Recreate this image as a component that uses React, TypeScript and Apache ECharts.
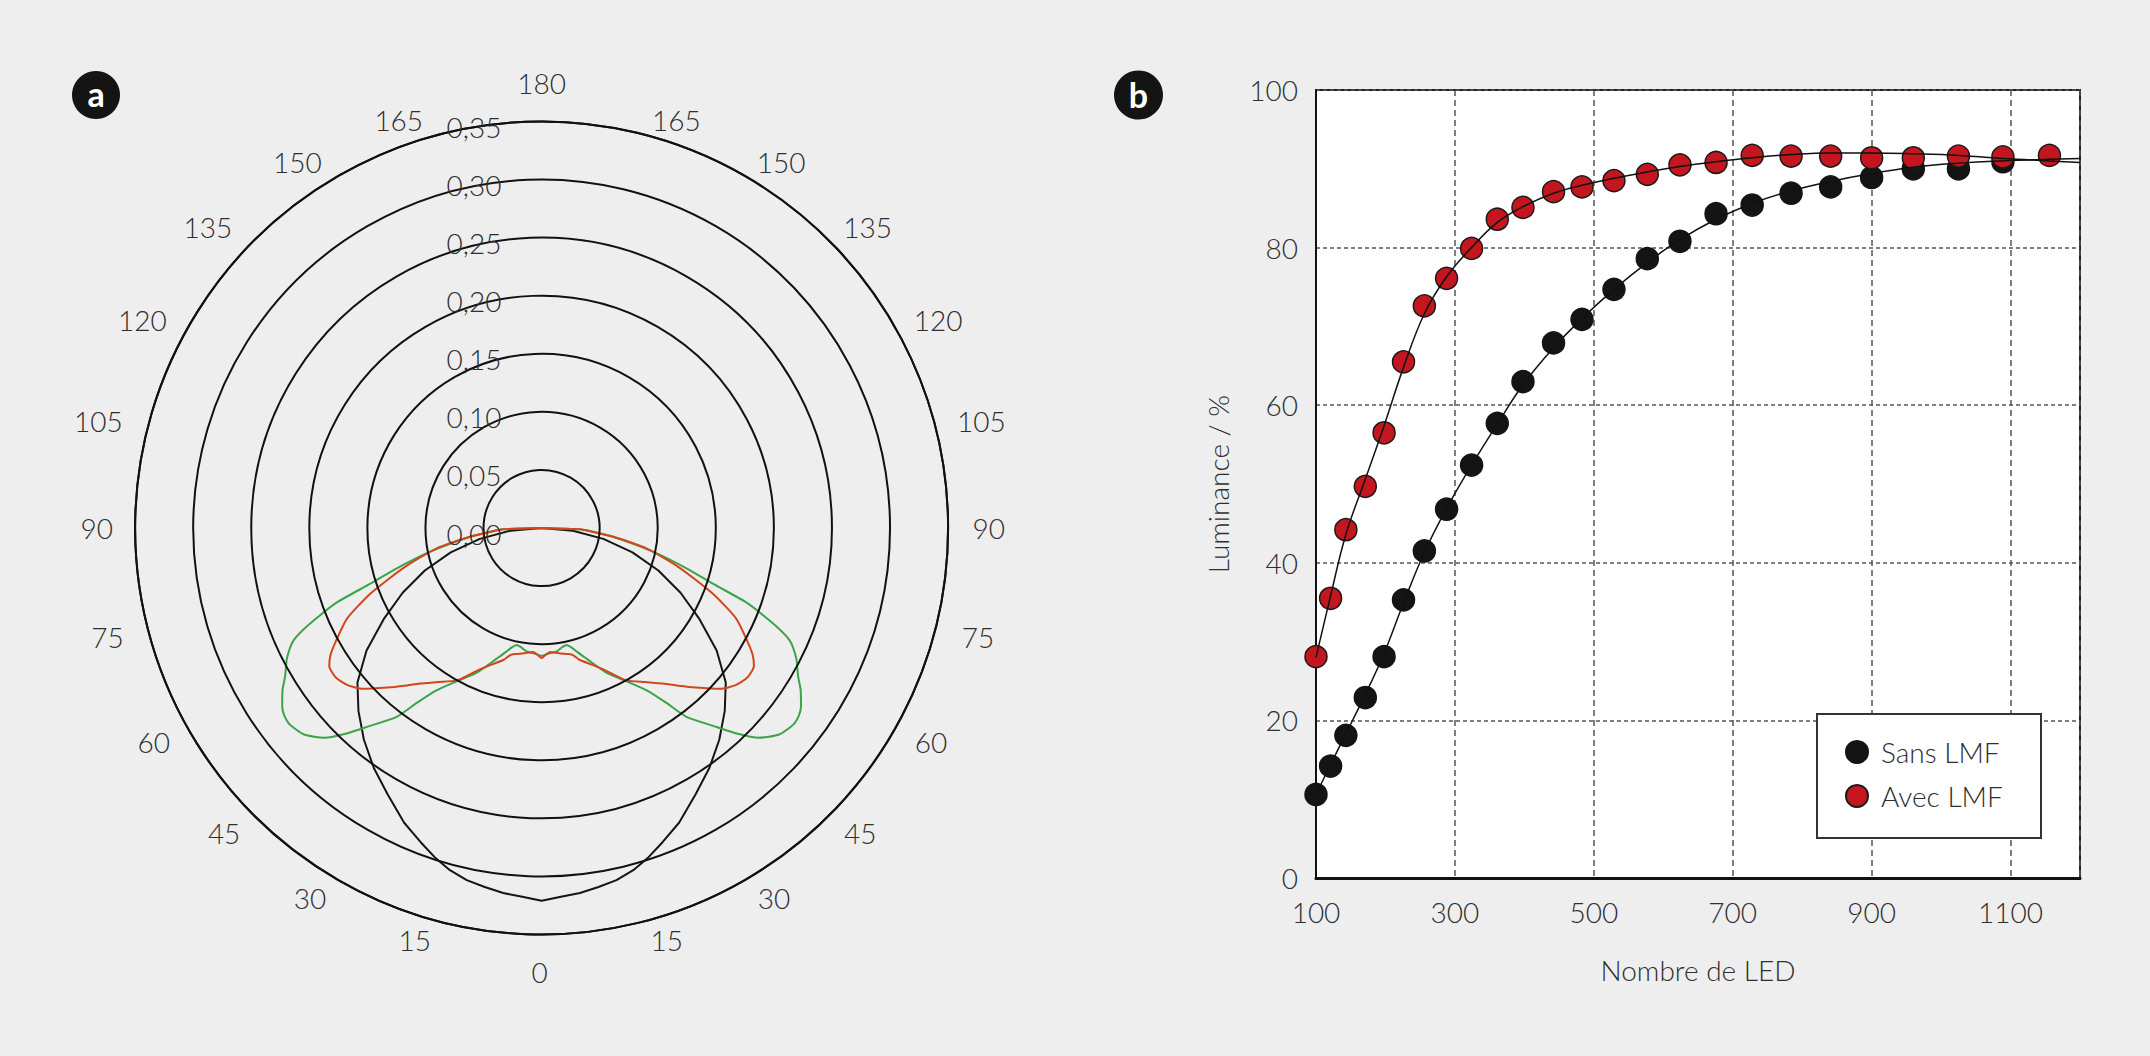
import React, { useEffect, useRef } from 'react';
import * as echarts from 'echarts';

// ---------- Panel a: polar photometric curves (gamma in degrees from nadir, value) ----------
const gammaBlack = [0, 3, 6, 9, 12, 15, 18, 21, 25, 30, 35, 40, 45, 50, 55, 60, 65, 70, 75, 80, 85, 90];
const valueBlack = [0.321, 0.318, 0.316, 0.313, 0.31, 0.305, 0.298, 0.29, 0.28, 0.265, 0.252, 0.238, 0.223, 0.207, 0.184, 0.157, 0.132, 0.107, 0.081, 0.054, 0.027, 0.0];

const gammaOrange = [0, 2, 4, 8, 12, 14, 16, 20, 24, 29, 34, 38, 41, 44, 48, 51, 54, 57, 59, 61, 65, 69, 74, 79, 83, 86, 88, 90];
const valueOrange = [0.112, 0.109, 0.107, 0.109, 0.111, 0.113, 0.118, 0.125, 0.134, 0.15, 0.16, 0.17, 0.18, 0.191, 0.207, 0.215, 0.219, 0.218, 0.212, 0.203, 0.185, 0.158, 0.123, 0.092, 0.062, 0.043, 0.033, 0.0];

const gammaGreen = [0, 4, 7, 10, 12, 14, 16, 19, 24, 29, 33, 35.5, 37.5, 41, 43.5, 46, 49, 52, 54, 55.5, 58, 60, 62.7, 64.5, 65.7, 67, 68.5, 70, 72, 74.5, 78, 83, 86, 88, 90];
const valueGreen = [0.11, 0.108, 0.107, 0.104, 0.103, 0.106, 0.111, 0.119, 0.136, 0.151, 0.167, 0.185, 0.205, 0.226, 0.244, 0.26, 0.271, 0.275, 0.274, 0.271, 0.263, 0.255, 0.247, 0.24, 0.234, 0.222, 0.205, 0.188, 0.155, 0.129, 0.098, 0.062, 0.043, 0.033, 0.0];

// Angle tick labels, clockwise from the top (every 15°)
const angleTickLabels = ['180', '165', '150', '135', '120', '105', '90', '75', '60', '45', '30', '15', '0', '15', '30', '45', '60', '75', '90', '105', '120', '135', '150', '165'];

// ---------- Panel b: luminance vs LED count ----------
const ledCount = [100, 121, 143, 171, 198, 226, 256, 288, 324, 361, 398, 442, 483, 529, 577, 624, 676, 728, 784, 841, 900, 960, 1025, 1089, 1156];
const sansLMF = [10.6, 14.2, 18.1, 22.9, 28.1, 35.3, 41.5, 46.8, 52.4, 57.7, 63.0, 67.9, 70.9, 74.7, 78.6, 80.8, 84.3, 85.4, 86.9, 87.7, 88.9, 90.0, 90.0, 90.9];
const avecLMF = [28.1, 35.5, 44.2, 49.7, 56.5, 65.5, 72.6, 76.1, 79.9, 83.6, 85.1, 87.1, 87.7, 88.5, 89.3, 90.5, 90.8, 91.7, 91.6, 91.6, 91.4, 91.4, 91.6, 91.5, 91.7];

const fitX = [100, 121, 143, 171, 198, 226, 256, 288, 324, 361, 398, 442, 483, 529, 577, 624, 676, 728, 784, 841, 900, 960, 1025, 1089, 1156, 1200];
const fitSans = [10.6, 14.4, 18.3, 23.3, 28.5, 34.9, 41.3, 46.9, 52.4, 57.6, 62.6, 67.3, 71.0, 74.7, 78.1, 81.0, 83.6, 85.6, 87.2, 88.4, 89.4, 90.2, 90.7, 91.0, 91.2, 91.3];
const fitAvec = [28.0, 35.8, 43.6, 50.6, 57.4, 64.8, 71.6, 76.3, 80.0, 83.2, 85.2, 86.9, 87.9, 88.8, 89.6, 90.3, 90.9, 91.4, 91.8, 92.0, 92.0, 91.9, 91.7, 91.3, 91.0, 90.8];

const legendNames = ['Sans LMF', 'Avec LMF'];

// ---------- styling ----------
const FONT = 'Lato';
const TXT = '#2e2e2e';
// Label padding [top, right, bottom, left] per angle tick, to nudge each label like the original layout
const angleLabelPadding = [
  [0, 0, 54.3, 0], [0, 0, 30.6, 74.6], [0, 0, 25.7, 26.9], [0, 0, 20.6, 35.4], [0, 0, 6, 46], [0, 0, 0, 51.7],
  [0, 0, 0, 54.5], [0, 0, 0, 56.6], [11.5, 0, 0, 47.2], [24.6, 0, 0, 36.1], [29.7, 0, 0, 28], [34.6, 0, 0, 55.2],
  [53.2, 4, 0, 0], [34.6, 59, 0, 0], [29.7, 27.2, 0, 0], [24.6, 35, 0, 0], [11.5, 45.5, 0, 0], [0, 54.2, 0, 0],
  [0, 52.1, 0, 0], [0, 55.2, 0, 0], [0, 48.7, 6, 0], [0, 43.2, 20.6, 0], [0, 31.7, 25.7, 0], [0, 90.8, 30.6, 0],
];
// Vertically centred labels are nudged with an empty line (line height in px, sign = up / down)
const angleLabelLineShift = [0, 0, 0, 0, 0, -19.6, 0, 23.2, 0, 0, 0, 0, 0, 0, 0, 0, 0, 23.2, 0, -19.6, 0, 0, 0, 0];

function mirror(g: number[], r: number[]) {
  const out: number[][] = [];
  for (let i = g.length - 1; i >= 0; i--) out.push([r[i], 180 - g[i]]);
  for (let i = 1; i < g.length; i++) out.push([r[i], 180 + g[i]]);
  return out;
}

const labelStyle = { fontFamily: FONT, fontWeight: 300 as any, fontSize: 28, color: TXT };
const POLAR_CENTER = [541.6, 528];
const POLAR_RADIUS = 406.5;

const option: any = {
  animation: false,
  backgroundColor: '#eeeeee',
  textStyle: { fontFamily: FONT, fontWeight: 300 },
  polar: [
    { center: POLAR_CENTER, radius: POLAR_RADIUS },
    { center: POLAR_CENTER, radius: POLAR_RADIUS },
  ],
  angleAxis: [
    {
      polarIndex: 0,
      type: 'value',
      min: 0,
      max: 360,
      interval: 15,
      startAngle: 90,
      clockwise: true,
      axisLine: { show: true, lineStyle: { color: '#111', width: 2 } },
      axisTick: { show: false },
      splitLine: { show: false },
      axisLabel: { show: false },
    },
    {
      polarIndex: 1,
      type: 'category',
      boundaryGap: false,
      startAngle: 90,
      clockwise: true,
      data: angleTickLabels.map((t, i) => {
        const shift = angleLabelLineShift[i];
        const ts: any = { padding: angleLabelPadding[i] };
        if (shift !== 0) ts.lineHeight = Math.abs(shift);
        return { value: t, textStyle: ts };
      }),
      axisLine: { show: false },
      axisTick: { show: false },
      splitLine: { show: false },
      splitArea: { show: false },
      axisLabel: {
        ...labelStyle,
        interval: 0,
        margin: -30,
        lineHeight: 28,
        formatter: (value: string, index: number) => {
          const shift = angleLabelLineShift[index];
          if (shift < 0) return value + '\n';
          if (shift > 0) return '\n' + value;
          return value;
        },
      },
    },
  ],
  radiusAxis: [
    {
      polarIndex: 0,
      type: 'value',
      min: 0,
      max: 0.35,
      interval: 0.05,
      axisLine: { show: false },
      axisTick: { show: false },
      splitLine: { show: true, lineStyle: { color: '#111', width: 2 } },
      axisLabel: {
        ...labelStyle,
        margin: 95,
        align: 'left',
        verticalAlign: 'top',
        lineHeight: 11,
        formatter: (v: number) => v.toFixed(2).replace('.', ','),
      },
      z: 10,
    },
    {
      polarIndex: 1,
      type: 'value',
      min: 0,
      max: 0.35,
      axisLine: { show: false },
      axisTick: { show: false },
      splitLine: { show: false },
      axisLabel: { show: false },
    },
  ],
  grid: {
    left: 1316,
    top: 90,
    width: 764,
    height: 788,
    show: true,
    backgroundColor: '#ffffff',
    borderColor: '#222',
    borderWidth: 2,
  },
  xAxis: {
    type: 'value',
    min: 100,
    max: 1200,
    interval: 200,
    name: 'Nombre de LED',
    nameLocation: 'middle',
    nameGap: 78,
    nameTextStyle: { ...labelStyle },
    axisLine: { show: true, onZero: false, lineStyle: { color: '#111', width: 3 } },
    axisTick: { show: false },
    axisLabel: { ...labelStyle, margin: 20, formatter: (v: number) => (v === 1200 ? '' : String(v)) },
    splitLine: { show: true, lineStyle: { type: [6, 4], color: '#555', width: 1.5 } },
  },
  yAxis: {
    type: 'value',
    min: 0,
    max: 100,
    interval: 20,
    name: 'Luminance / %',
    nameLocation: 'middle',
    nameGap: 84,
    nameRotate: 90,
    nameTextStyle: { ...labelStyle },
    axisLine: { show: true, onZero: false, lineStyle: { color: '#111', width: 2 } },
    axisTick: { show: false },
    axisLabel: { ...labelStyle, margin: 18 },
    splitLine: { show: true, lineStyle: { type: [4, 3], color: '#555', width: 1.5 } },
  },
  legend: {
    data: legendNames,
    orient: 'vertical',
    left: 1840,
    top: 733,
    itemWidth: 22,
    itemHeight: 22,
    itemGap: 16,
    textStyle: { ...labelStyle, padding: [0, 0, 0, 8] },
    z: 6,
  },
  graphic: [
    {
      type: 'rect',
      shape: { x: 1817, y: 714, width: 224, height: 124 },
      style: { fill: '#ffffff', stroke: '#333', lineWidth: 2 },
      z: 3,
    },
    { type: 'circle', shape: { cx: 96, cy: 95, r: 24 }, style: { fill: '#141414' }, z: 5 },
    {
      type: 'text',
      x: 96,
      y: 93,
      style: { text: 'a', fill: '#fff', fontSize: 34, fontWeight: 'bold', fontFamily: FONT, align: 'center', verticalAlign: 'middle' },
      z: 6,
    },
    { type: 'circle', shape: { cx: 1138.5, cy: 95, r: 24.5 }, style: { fill: '#141414' }, z: 5 },
    {
      type: 'text',
      x: 1138.5,
      y: 94,
      style: { text: 'b', fill: '#fff', fontSize: 34, fontWeight: 'bold', fontFamily: FONT, align: 'center', verticalAlign: 'middle' },
      z: 6,
    },
  ],
  series: [
    {
      type: 'line',
      coordinateSystem: 'polar',
      polarIndex: 0,
      data: mirror(gammaBlack, valueBlack),
      symbol: 'none',
      lineStyle: { color: '#151515', width: 2 },
      z: 3,
    },
    {
      type: 'line',
      coordinateSystem: 'polar',
      polarIndex: 0,
      data: mirror(gammaGreen, valueGreen),
      symbol: 'none',
      smooth: 0.2,
      lineStyle: { color: '#3ba449', width: 2 },
      z: 4,
    },
    {
      type: 'line',
      coordinateSystem: 'polar',
      polarIndex: 0,
      data: mirror(gammaOrange, valueOrange),
      symbol: 'none',
      smooth: 0.2,
      lineStyle: { color: '#d3461c', width: 2 },
      z: 5,
    },
    {
      name: 'Sans LMF',
      type: 'scatter',
      xAxisIndex: 0,
      yAxisIndex: 0,
      data: sansLMF.map((v, i) => [ledCount[i], v]),
      symbol: 'circle',
      symbolSize: 22,
      clip: false,
      itemStyle: { color: '#141414', borderColor: '#141414', borderWidth: 1.5, opacity: 1 },
      z: 3,
    },
    {
      name: 'Avec LMF',
      type: 'scatter',
      xAxisIndex: 0,
      yAxisIndex: 0,
      data: avecLMF.map((v, i) => [ledCount[i], v]),
      symbol: 'circle',
      symbolSize: 22,
      clip: false,
      itemStyle: { color: '#c4161f', borderColor: '#1a1a1a', borderWidth: 1.5, opacity: 1 },
      z: 4,
    },
    {
      type: 'line',
      xAxisIndex: 0,
      yAxisIndex: 0,
      data: fitX.map((x, i) => [x, fitSans[i]]),
      symbol: 'none',
      smooth: 0.4,
      lineStyle: { color: '#111', width: 1.5 },
      z: 6,
    },
    {
      type: 'line',
      xAxisIndex: 0,
      yAxisIndex: 0,
      data: fitX.map((x, i) => [x, fitAvec[i]]),
      symbol: 'none',
      smooth: 0.4,
      lineStyle: { color: '#111', width: 1.5 },
      z: 6,
    },
  ],
};

export default function App() {
  const ref = useRef<HTMLDivElement>(null);
  useEffect(() => {
    document.body.style.margin = '0';
    document.body.style.background = '#eeeeee';
    const chart = echarts.init(ref.current as HTMLDivElement, undefined, { renderer: 'svg' });
    chart.setOption(option);
    return () => chart.dispose();
  }, []);
  return (
    <div
      ref={ref}
      style={{ position: 'fixed', left: 0, top: 0, width: 2150, height: 1056, background: '#eeeeee' }}
    />
  );
}
